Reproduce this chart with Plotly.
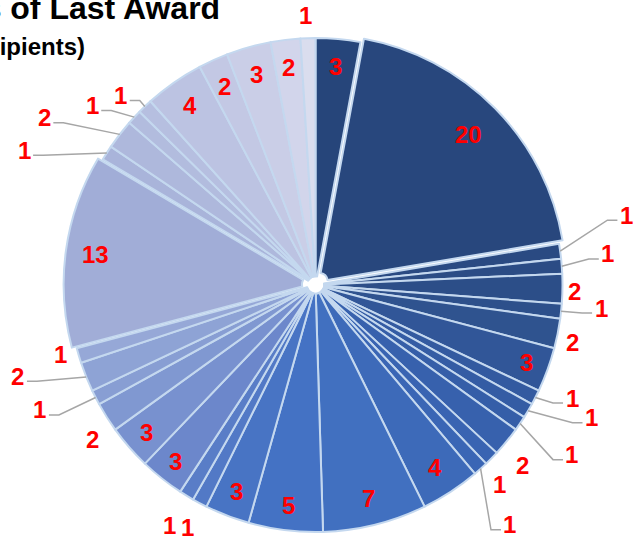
import math
import plotly.graph_objects as go

W, H = 638, 539

# number of recipients per slice, clockwise from 12 o'clock
recipients = [3, 20, 1, 1, 2, 1, 2, 3, 1, 1, 1, 2, 1, 1, 4, 7, 5, 3,
              1, 1, 3, 3, 2, 1, 2, 1, 13, 1, 2, 1, 1, 4, 2, 3, 2, 1]
slice_names = ["Slice %d" % (i + 1) for i in range(len(recipients))]

title_line1 = "Years of Last Award"
title_line2 = "(Number of Recipients)"

# monochrome blue palette, dark -> light
slice_colors = [
    "#26457A", "#28477D", "#2A4A82", "#2B4C85", "#2C4E88", "#2D508B", "#2F538F",
    "#315698", "#335AA0", "#345CA4", "#355EA8", "#3761AD", "#3964B2", "#3A66B5",
    "#3D6AB9", "#4170C0", "#4472C4", "#4874C4", "#5279C6", "#597DC7", "#6C87CB",
    "#7891CF", "#8098D1", "#889ED3", "#8EA3D5", "#96A8D7", "#A1ADD7", "#A9B4DA",
    "#AEB8DC", "#B2BCDE", "#B6BFE0", "#BCC3E2", "#C3C8E4", "#CACEE7", "#D2D5EB",
    "#DADDEE",
]
pulls = [0, 0.02] + [0] * 24 + [0.02] + [0] * 9

# label placement: radius (fraction of pie radius), angle nudge (deg), leader line
lab_r = [0.89, 0.87, 1.29, 1.19, 1.05, 1.16, 1.065, 0.91, 1.135, 1.24, 1.245, 1.11,
         1.10, 1.25, 0.885, 0.89, 0.90, 0.895, 1.11, 1.14, 0.91, 0.91, 1.10, 1.225,
         1.26, 1.07, 0.90, 1.30, 1.29, 1.16, 1.10, 0.886, 0.885, 0.887, 0.886, 1.09]
lab_da = [0, 0, -4.8, -1.7, 0.6, -1.5, 1.3, 0, -3.3, -4.9, -0.6, 1.8,
          2.7, 2.9, 0, 0, 0, 0, -0.2, -0.3, 0, 0, -2.4, 2.7,
          4.8, 1.3, 0, -7.5, -5.9, -4.0, -2.1, 0, 0, 0, 0, -0.3]
leader = [0, 0, 1, 1, 0, 1, 0, 0, 1, 1, 1, 0,
          0, 1, 0, 0, 0, 0, 0, 0, 0, 0, 0, 1,
          1, 0, 0, 1, 1, 1, 1, 0, 0, 0, 0, 0]

cx, cy, R = 315.5, 285, 247
half = R * (1 + max(pulls))

fig = go.Figure(go.Pie(
    labels=slice_names,
    values=recipients,
    sort=False,
    direction="clockwise",
    rotation=0,
    hole=0.035,
    pull=pulls,
    textinfo="none",
    hoverinfo="value",
    marker=dict(colors=slice_colors, line=dict(color="#C4D8EF", width=2)),
    domain=dict(x=[(cx - half) / W, (cx + half) / W],
                y=[1 - (cy + half) / H, 1 - (cy - half) / H]),
))

total = sum(recipients)
cum = 0
shapes = []
for i, v in enumerate(recipients):
    mid = (cum + v / 2) / total * 360
    cum += v
    a = math.radians(mid + lab_da[i])
    lx = cx + lab_r[i] * R * math.sin(a)
    ly = cy - lab_r[i] * R * math.cos(a)
    fig.add_annotation(x=lx / W, y=1 - ly / H, xref="paper", yref="paper",
                       text="<b>%d</b>" % v, showarrow=False,
                       xanchor="center", yanchor="middle",
                       font=dict(family="Liberation Sans", size=24, color="#FF0000"))
    if leader[i]:
        m = math.radians(mid)
        x0 = cx + R * math.sin(m)
        y0 = cy - R * math.cos(m)
        side = 1 if lx > cx else -1
        x2 = lx - side * 9
        y2 = ly + 5
        x1 = x2 - side * 10
        shapes.append(dict(
            type="path", xref="paper", yref="paper",
            path="M%f,%f L%f,%f L%f,%f" % (x0 / W, 1 - y0 / H, x1 / W, 1 - y2 / H,
                                            x2 / W, 1 - y2 / H),
            line=dict(color="#A6A6A6", width=1.5)))

fig.add_annotation(x=222 / W, y=1 - 8 / H, xref="paper", yref="paper",
                   text="<b>%s</b>" % title_line1, showarrow=False,
                   xanchor="right", yanchor="middle",
                   font=dict(family="Liberation Sans", size=32, color="#000000"))
fig.add_annotation(x=87 / W, y=1 - 47 / H, xref="paper", yref="paper",
                   text="<b>%s</b>" % title_line2, showarrow=False,
                   xanchor="right", yanchor="middle",
                   font=dict(family="Liberation Sans", size=24, color="#000000"))

fig.update_layout(
    width=W, height=H,
    margin=dict(l=0, r=0, t=0, b=0),
    paper_bgcolor="white",
    plot_bgcolor="white",
    showlegend=False,
    shapes=shapes,
)

# page body has a default 8px margin; drop it so the figure sits at the corner
fig.write_html("out.html", config={"displayModeBar": False},
               post_script="document.body.style.margin='0';")
